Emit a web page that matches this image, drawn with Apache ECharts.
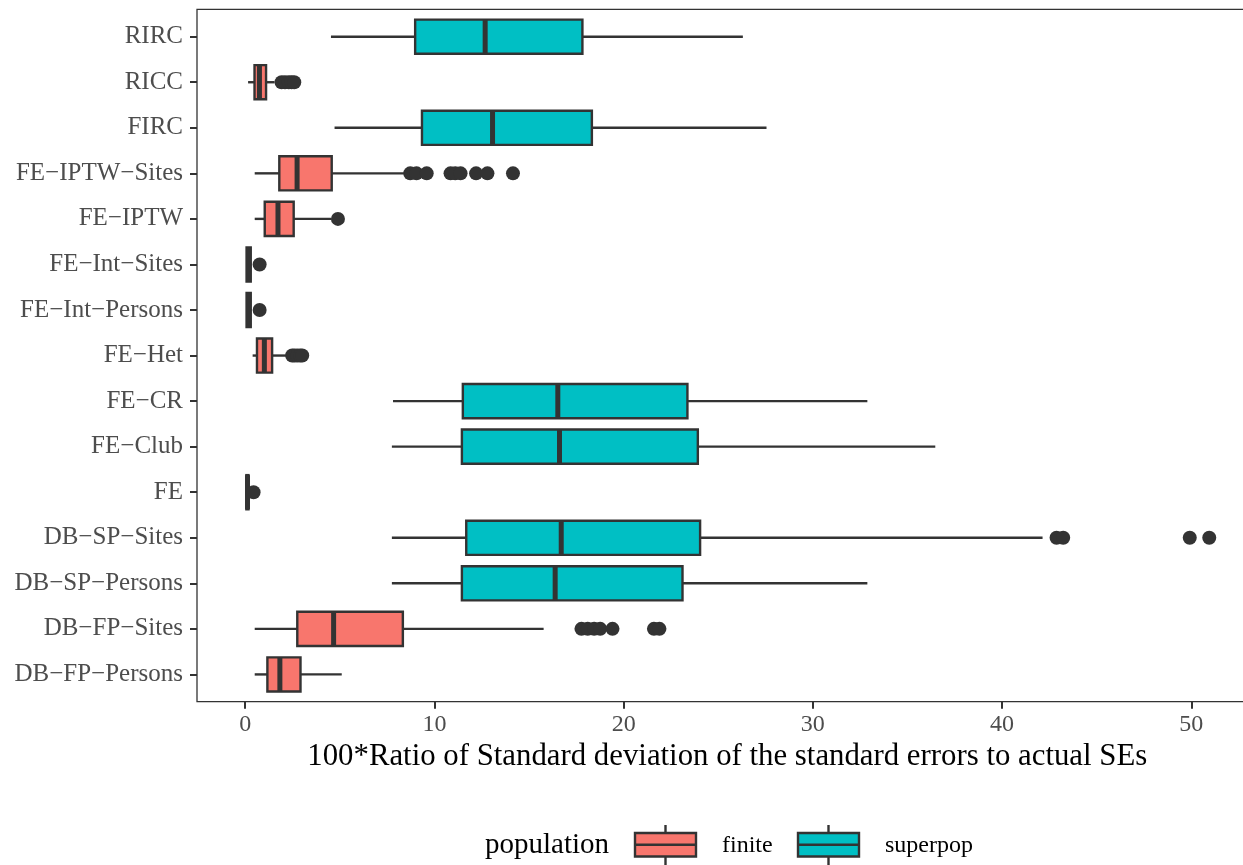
<!DOCTYPE html>
<html>
<head>
<meta charset="utf-8">
<script src="https://cdn.jsdelivr.net/npm/echarts@6/dist/echarts.min.js"></script>
<style>
	html, body { margin: 0; padding: 0; background: #fff; }
	#main { width: 1243px; height: 865px; }
</style>
</head>
<body>
<div id="main"></div>
<script>
	// categories top to bottom, as on the picture
	var categories = ['RIRC', 'RICC', 'FIRC', 'FE−IPTW−Sites', 'FE−IPTW', 'FE−Int−Sites', 'FE−Int−Persons', 'FE−Het',
		'FE−CR', 'FE−Club', 'FE', 'DB−SP−Sites', 'DB−SP−Persons', 'DB−FP−Sites', 'DB−FP−Persons'];
	var population = ['superpop', 'finite', 'superpop', 'finite', 'finite', 'finite', 'finite', 'finite',
		'superpop', 'superpop', 'finite', 'superpop', 'superpop', 'finite', 'finite'];
	var lowWhisker = [4.53, 0.15, 4.72, 0.50, 0.50, 0.05, 0.05, 0.39, 7.81, 7.75, 0.05, 7.75, 7.75, 0.50, 0.50];
	var q1 = [8.98, 0.49, 9.34, 1.80, 1.03, 0.07, 0.07, 0.62, 11.50, 11.45, 0.06, 11.68, 11.45, 2.75, 1.17];
	var median = [12.68, 0.75, 13.07, 2.74, 1.73, 0.18, 0.18, 1.01, 16.52, 16.61, 0.12, 16.70, 16.38, 4.67, 1.83];
	var q3 = [17.82, 1.10, 18.32, 4.57, 2.56, 0.29, 0.29, 1.42, 23.37, 23.92, 0.17, 24.04, 23.11, 8.33, 2.92];
	var highWhisker = [26.30, 1.55, 27.55, 8.40, 4.55, 0.32, 0.32, 2.20, 32.88, 36.47, 0.22, 42.14, 32.88, 15.77, 5.10];

	var outliers = [
		['RICC', 1.92], ['RICC', 2.1], ['RICC', 2.3], ['RICC', 2.45], ['RICC', 2.59],
		['FE−IPTW−Sites', 8.72], ['FE−IPTW−Sites', 9.05], ['FE−IPTW−Sites', 9.59], ['FE−IPTW−Sites', 10.85],
		['FE−IPTW−Sites', 11.1], ['FE−IPTW−Sites', 11.38], ['FE−IPTW−Sites', 12.2], ['FE−IPTW−Sites', 12.8],
		['FE−IPTW−Sites', 14.15],
		['FE−IPTW', 4.9],
		['FE−Int−Sites', 0.76],
		['FE−Int−Persons', 0.76],
		['FE−Het', 2.48], ['FE−Het', 2.6], ['FE−Het', 2.75], ['FE−Het', 2.9], ['FE−Het', 3.01],
		['FE', 0.44],
		['DB−SP−Sites', 42.88], ['DB−SP−Sites', 43.23], ['DB−SP−Sites', 49.92], ['DB−SP−Sites', 50.95],
		['DB−FP−Sites', 17.77], ['DB−FP−Sites', 18.1], ['DB−FP−Sites', 18.44], ['DB−FP−Sites', 18.76],
		['DB−FP−Sites', 19.41], ['DB−FP−Sites', 21.6], ['DB−FP−Sites', 21.89]
	];

	var xTicks = [0, 10, 20, 30, 40, 50];
	var populations = ['finite', 'superpop'];
	var popColors = ['#F8766D', '#00BFC4'];

	var serif = '"Liberation Serif", "Times New Roman", serif';
	var xMin = -2.55, xMax = 53.5;

	var boxData = categories.map(function (c, i) {
		return [i, lowWhisker[i], q1[i], median[i], q3[i], highWhisker[i], populations.indexOf(population[i])];
	});

	function renderBox(params, api) {
		var cat = api.value(0);
		var lo = api.coord([api.value(1), cat]);
		var b1 = api.coord([api.value(2), cat]);
		var md = api.coord([api.value(3), cat]);
		var b3 = api.coord([api.value(4), cat]);
		var hi = api.coord([api.value(5), cat]);
		var half = api.size([0, 1])[1] * 0.375;
		var y = lo[1];
		var dark = '#333333';
		return {
			type: 'group',
			children: [
				{ type: 'line', shape: { x1: lo[0], y1: y, x2: b1[0], y2: y }, style: { stroke: dark, lineWidth: 2.4 } },
				{ type: 'line', shape: { x1: b3[0], y1: y, x2: hi[0], y2: y }, style: { stroke: dark, lineWidth: 2.4 } },
				{ type: 'rect', shape: { x: b1[0], y: y - half, width: b3[0] - b1[0], height: half * 2 },
					style: { fill: popColors[api.value(6)], stroke: dark, lineWidth: 2.4 } },
				{ type: 'line', shape: { x1: md[0], y1: y - half, x2: md[0], y2: y + half }, style: { stroke: dark, lineWidth: 5 } }
			]
		};
	}

	// legend drawn like the ggplot keys
	var keyX = [635, 798];
	var legendItems = [{
		type: 'text', x: 485, y: 845,
		style: { text: 'population', font: '29px ' + serif, fill: '#000', verticalAlign: 'middle' }
	}];
	populations.forEach(function (p, i) {
		var x = keyX[i];
		legendItems.push(
			{ type: 'line', shape: { x1: x + 30.5, y1: 825, x2: x + 30.5, y2: 868 }, style: { stroke: '#333', lineWidth: 2.4 } },
			{ type: 'rect', shape: { x: x, y: 833, width: 61, height: 23.5 }, style: { fill: popColors[i], stroke: '#333', lineWidth: 2.4 } },
			{ type: 'line', shape: { x1: x, y1: 844.7, x2: x + 61, y2: 844.7 }, style: { stroke: '#333', lineWidth: 2.4 } },
			{ type: 'text', x: x + 87, y: 846, style: { text: p, font: '24px ' + serif, fill: '#000', verticalAlign: 'middle' } }
		);
	});

	var myChart = echarts.init(document.getElementById('main'));
	var option = {
		animation: false,
		backgroundColor: '#fff',
		grid: [
			{ left: 197, width: 1060.5, top: 9.3, height: 692.4, outerBoundsMode: 'none', show: true, borderColor: '#333', borderWidth: 1.3, backgroundColor: 'transparent' },
			{ left: 197, width: 1060.5, top: 13.9, height: 683.3, outerBoundsMode: 'none' }
		],
		xAxis: [
			{
				gridIndex: 0, type: 'value', min: xMin, max: xMax,
				axisLine: { show: false, onZero: false },
				splitLine: { show: false },
				axisTick: { show: true, customValues: xTicks, length: 7, lineStyle: { color: '#333', width: 2 } },
				axisLabel: { customValues: xTicks, color: '#4d4d4d', fontSize: 24, fontFamily: serif, margin: 11 },
				name: '100*Ratio of Standard deviation of the standard errors to actual SEs',
				nameLocation: 'middle', nameGap: 40,
				nameTextStyle: { color: '#000', fontSize: 30.8, fontFamily: serif }
			},
			{ gridIndex: 1, type: 'value', min: xMin, max: xMax, show: false }
		],
		yAxis: [
			{ gridIndex: 0, type: 'value', show: false },
			{
				gridIndex: 1, type: 'category', inverse: true, data: categories,
				axisLine: { show: false, onZero: false },
				axisTick: { show: true, alignWithLabel: true, length: 7, lineStyle: { color: '#333', width: 2 } },
				axisLabel: { color: '#4d4d4d', fontSize: 25, fontFamily: serif, margin: 14 },
				splitLine: { show: false }
			}
		],
		series: [
			{
				name: 'outliers', type: 'scatter', xAxisIndex: 1, yAxisIndex: 1, z: 1,
				symbolSize: 14,
				itemStyle: { color: '#333333', opacity: 1 },
				data: outliers.map(function (o) { return [o[1], o[0]]; })
			},
			{
				name: 'boxes', type: 'custom', xAxisIndex: 1, yAxisIndex: 1, z: 2,
				renderItem: renderBox,
				encode: { x: [1, 2, 3, 4, 5], y: 0 },
				data: boxData
			}
		],
		graphic: legendItems
	};
	myChart.setOption(option);
</script>
</body>
</html>
